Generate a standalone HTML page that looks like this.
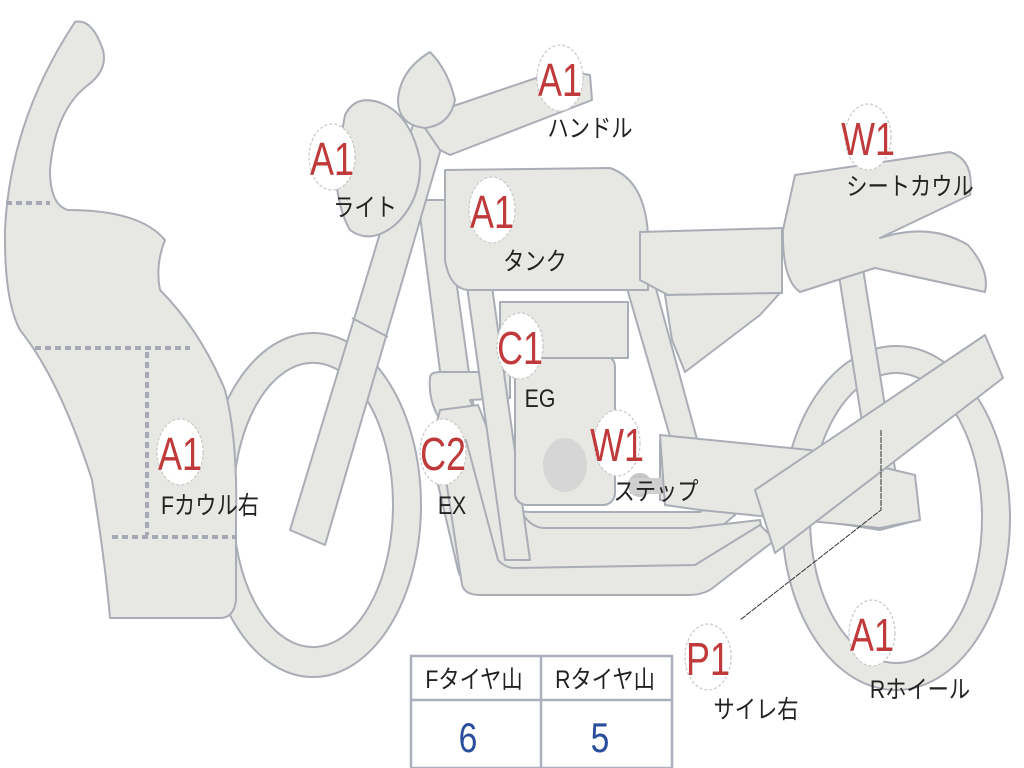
<!DOCTYPE html>
<html><head><meta charset="utf-8"><style>
html,body{margin:0;padding:0;background:#fff;width:1024px;height:768px;overflow:hidden}
svg{display:block}
.s{fill:#e7e7e3;stroke:#a9adb5;stroke-width:2;stroke-linejoin:round}
.lb{font-family:"Liberation Sans","Noto Sans CJK JP",sans-serif;fill:#c0393b;font-size:46px}
.tx{font-family:"Liberation Sans","Noto Sans CJK JP",sans-serif;fill:#222;font-size:25px}
.c{fill:#fff;stroke:#c8c8c8;stroke-width:1.2;stroke-dasharray:3 2}
</style></head><body>
<svg width="1024" height="768" viewBox="0 0 1024 768" xmlns="http://www.w3.org/2000/svg">
<!-- front wheel -->
<path class="s" fill-rule="evenodd" d="M205,505 a108,172 0 1,0 216,0 a108,172 0 1,0 -216,0 Z M233,505 a80,142 0 1,0 160,0 a80,142 0 1,0 -160,0 Z"/>
<!-- rear wheel -->
<path class="s" fill-rule="evenodd" d="M782,518 a114,172 0 1,0 228,0 a114,172 0 1,0 -228,0 Z M810,518 a86,145 0 1,0 172,0 a86,145 0 1,0 -172,0 Z"/>
<!-- rear frame tubes -->
<polygon class="s" points="835,250 860,250 900,500 875,505"/>
<polygon class="s" points="660,440 820,455 915,480 918,520 880,530 720,505 660,500"/>
<!-- front downtube -->
<polygon class="s" points="418,200 445,200 495,560 465,565"/>
<!-- exhaust pipes -->
<path class="s" d="M430,378 Q430,372 440,372 L510,372 L510,398 L470,400 L515,505 Q520,512 530,512 L700,512 L720,500 L735,515 L705,540 Q700,545 690,545 L505,545 Q495,545 490,535 L440,420 Q428,400 430,378 Z"/>
<path class="s" d="M440,410 L478,405 L520,510 Q530,528 545,528 L690,528 L760,520 L765,545 L700,580 Q690,585 680,585 L475,585 Q462,585 458,570 L430,450 Z" />
<path class="s" d="M440,440 L466,440 L498,560 Q505,568 515,568 L695,565 L760,525 L775,540 L710,590 Q700,595 690,595 L480,595 Q465,595 462,585 Z"/>
<!-- frame main -->
<polygon class="s" points="455,200 480,200 530,560 505,560"/>
<polygon class="s" points="610,230 640,230 715,505 690,505"/>
<!-- engine -->
<rect class="s" x="515" y="355" width="100" height="150" rx="12"/>
<rect class="s" x="500" y="302" width="128" height="56"/>
<ellipse cx="565" cy="465" rx="22" ry="27" fill="#d6d6d6"/>
<ellipse cx="640" cy="485" rx="12" ry="12" fill="#c4c4c4"/>
<ellipse cx="690" cy="480" rx="11" ry="12" fill="#c4c4c4"/>
<rect x="630" y="478" width="65" height="16" fill="#cfcfcf"/>
<!-- swingarm -->
<polygon class="s" points="660,435 810,450 915,475 920,520 880,528 700,510 665,505"/>
<!-- muffler -->
<polygon class="s" points="755,490 985,335 1003,378 775,553"/>
<!-- fork -->
<polygon class="s" points="290,530 325,545 445,135 415,118"/>
<line x1="352" y1="318" x2="388" y2="337" stroke="#a9adb5" stroke-width="2"/>
<!-- handlebar -->
<polygon class="s" points="418,118 560,70 590,75 592,100 450,155 440,150"/>
<!-- mirror -->
<path class="s" d="M398,100 Q400,70 430,52 Q448,70 455,100 Q450,125 425,128 Q398,125 398,100 Z"/>
<!-- light -->
<path class="s" d="M345,115 Q355,95 378,102 Q410,112 420,160 Q422,200 395,225 Q370,245 350,230 Q338,210 335,170 Z"/>
<!-- tank -->
<path class="s" d="M445,170 L610,168 Q645,180 648,235 L648,290 L470,290 Q450,290 445,260 Z"/>
<!-- seat -->
<polygon class="s" points="640,232 782,228 782,293 668,295 640,280"/>
<polygon class="s" points="665,295 780,293 760,315 685,372 672,340"/>
<!-- seat cowl -->
<path class="s" d="M795,175 L950,152 Q975,160 970,195 L880,238 Q930,222 968,245 Q990,270 985,292 L875,268 L800,292 Q782,280 783,230 Z"/>
<!-- fairing -->
<path class="s" d="M75,22 Q92,18 103,50 Q108,70 88,85 Q55,110 50,170 Q50,205 68,210 Q140,210 165,240 Q155,265 160,290 Q200,330 225,390 Q238,440 236,520 L236,600 Q234,618 220,618 L110,618 Q105,560 92,480 Q60,380 20,330 Q4,300 5,230 Q10,120 75,22 Z"/>
<g stroke="#a4a9b4" stroke-width="4" stroke-dasharray="6 4" fill="none">
<line x1="6" y1="203" x2="50" y2="203"/>
<line x1="35" y1="348" x2="190" y2="348"/>
<line x1="147" y1="352" x2="147" y2="535"/>
<line x1="112" y1="537" x2="236" y2="537"/>
</g>
<!-- leader -->
<polyline points="881,430 881,510 740,620" fill="none" stroke="#333" stroke-width="1" stroke-dasharray="6 1"/>
<!-- table -->
<rect x="411" y="656" width="261" height="112" fill="#fff" stroke="#aab0bc" stroke-width="2.5"/>
<line x1="411" y1="700" x2="672" y2="700" stroke="#aab0bc" stroke-width="2.5"/>
<line x1="541" y1="656" x2="541" y2="768" stroke="#aab0bc" stroke-width="2.5"/>
<g class="tx" font-size="24" text-anchor="middle">
<text transform="translate(474,688) scale(0.85,1)">Fタイヤ山</text>
<text transform="translate(605,688) scale(0.85,1)">Rタイヤ山</text>
</g>
<g font-family="Liberation Sans,sans-serif" font-size="42" fill="#2a4d9c" text-anchor="middle">
<text transform="translate(468,752) scale(0.8,1)">6</text>
<text transform="translate(600,752) scale(0.8,1)">5</text>
</g>
<!-- badges -->
<g>
<ellipse class="c" cx="560" cy="78" rx="23" ry="33"/>
<ellipse class="c" cx="332" cy="157" rx="23" ry="33"/>
<ellipse class="c" cx="492" cy="210" rx="23" ry="33"/>
<ellipse class="c" cx="868" cy="137" rx="23" ry="33"/>
<ellipse class="c" cx="520" cy="346" rx="23" ry="33"/>
<ellipse class="c" cx="443" cy="452" rx="23" ry="33"/>
<ellipse class="c" cx="617" cy="443" rx="23" ry="33"/>
<ellipse class="c" cx="180" cy="452" rx="23" ry="33"/>
<ellipse class="c" cx="708" cy="657" rx="23" ry="33"/>
<ellipse class="c" cx="872" cy="633" rx="23" ry="33"/>
</g>
<g class="lb" text-anchor="middle">
<text transform="translate(560,96) scale(0.78,1)">A1</text>
<text transform="translate(332,175) scale(0.78,1)">A1</text>
<text transform="translate(492,228) scale(0.78,1)">A1</text>
<text transform="translate(868,155) scale(0.78,1)">W1</text>
<text transform="translate(520,364) scale(0.78,1)">C1</text>
<text transform="translate(443,470) scale(0.78,1)">C2</text>
<text transform="translate(617,461) scale(0.78,1)">W1</text>
<text transform="translate(180,470) scale(0.78,1)">A1</text>
<text transform="translate(708,675) scale(0.78,1)">P1</text>
<text transform="translate(872,651) scale(0.78,1)">A1</text>
</g>
<g class="tx" text-anchor="middle">
<text transform="translate(590,137) scale(0.85,1)">ハンドル</text>
<text transform="translate(365,216) scale(0.85,1)">ライト</text>
<text transform="translate(535,270) scale(0.85,1)">タンク</text>
<text transform="translate(910,195) scale(0.85,1)">シートカウル</text>
<text transform="translate(540,407) scale(0.85,1)">EG</text>
<text transform="translate(452,514) scale(0.85,1)">EX</text>
<text transform="translate(656,500) scale(0.85,1)">ステップ</text>
<text transform="translate(210,514) scale(0.85,1)">Fカウル右</text>
<text transform="translate(756,718) scale(0.85,1)">サイレ右</text>
<text transform="translate(920,698) scale(0.85,1)">Rホイール</text>
</g>
</svg>
</body></html>
